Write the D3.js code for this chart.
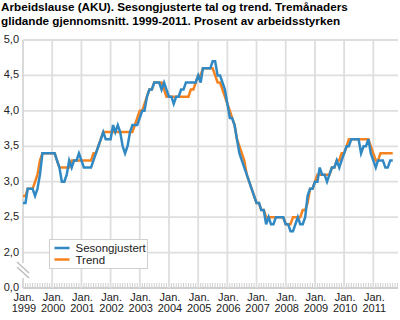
<!DOCTYPE html>
<html>
<head>
<meta charset="utf-8">
<script src="https://cdn.jsdelivr.net/npm/d3@7"></script>
<style>
  body { margin: 0; background: #fff; }
  text { font-family: "Liberation Sans", Arial, sans-serif; fill: #222; }
</style>
</head>
<body>
<div id="chart-area"></div>
<script>
// monthly values, Jan 1999 - Sep 2011
var firstMonth = new Date(1999, 0, 1);

var sesongjustert = [
  2.7, 2.7, 2.9, 2.9, 2.9, 2.8, 2.9, 3.1, 3.4, 3.4,
  3.4, 3.4, 3.4, 3.4, 3.3, 3.2, 3.0, 3.0, 3.1, 3.3,
  3.2, 3.3, 3.3, 3.4, 3.3, 3.2, 3.2, 3.2, 3.2, 3.3,
  3.4, 3.5, 3.6, 3.7, 3.6, 3.6, 3.6, 3.8, 3.7, 3.8,
  3.7, 3.5, 3.4, 3.5, 3.7, 3.8, 3.8, 3.8, 3.9, 4.0,
  4.0, 4.2, 4.3, 4.3, 4.4, 4.4, 4.4, 4.3, 4.4, 4.3,
  4.2, 4.2, 4.1, 4.2, 4.2, 4.3, 4.3, 4.4, 4.4, 4.4,
  4.4, 4.4, 4.5, 4.4, 4.6, 4.6, 4.6, 4.6, 4.7, 4.7,
  4.5, 4.5, 4.4, 4.3, 4.1, 3.9, 3.9, 3.8, 3.6, 3.4,
  3.3, 3.2, 3.1, 3.0, 2.9, 2.8, 2.7, 2.7, 2.6, 2.6,
  2.4, 2.5, 2.4, 2.4, 2.5, 2.5, 2.5, 2.5, 2.4, 2.4,
  2.3, 2.3, 2.4, 2.5, 2.4, 2.4, 2.5, 2.8, 2.9, 2.9,
  3.0, 3.0, 3.2, 3.1, 3.1, 3.0, 3.1, 3.2, 3.2, 3.3,
  3.2, 3.3, 3.4, 3.5, 3.5, 3.6, 3.6, 3.6, 3.6, 3.4,
  3.5, 3.5, 3.6, 3.4, 3.3, 3.2, 3.3, 3.3, 3.3, 3.2,
  3.2, 3.3, 3.3
];

var trend = [
  2.8, 2.8, 2.9, 2.9, 2.9, 3.0, 3.1, 3.3, 3.4, 3.4,
  3.4, 3.4, 3.4, 3.4, 3.3, 3.2, 3.2, 3.2, 3.2, 3.2,
  3.3, 3.3, 3.3, 3.3, 3.3, 3.3, 3.3, 3.3, 3.3, 3.4,
  3.4, 3.5, 3.6, 3.7, 3.7, 3.7, 3.7, 3.7, 3.7, 3.7,
  3.7, 3.7, 3.7, 3.7, 3.7, 3.7, 3.8, 3.9, 4.0, 4.0,
  4.1, 4.2, 4.3, 4.3, 4.4, 4.4, 4.4, 4.4, 4.3, 4.2,
  4.2, 4.2, 4.2, 4.2, 4.2, 4.2, 4.2, 4.2, 4.2, 4.3,
  4.3, 4.4, 4.5, 4.5, 4.6, 4.6, 4.6, 4.6, 4.6, 4.5,
  4.4, 4.4, 4.3, 4.2, 4.1, 4.0, 3.9, 3.8, 3.6, 3.5,
  3.4, 3.3, 3.1, 3.0, 2.9, 2.8, 2.7, 2.7, 2.6, 2.6,
  2.5, 2.5, 2.5, 2.5, 2.5, 2.5, 2.5, 2.5, 2.4, 2.4,
  2.4, 2.5, 2.5, 2.5, 2.5, 2.6, 2.6, 2.7, 2.9, 2.9,
  3.0, 3.1, 3.1, 3.1, 3.1, 3.1, 3.1, 3.2, 3.2, 3.3,
  3.3, 3.4, 3.4, 3.5, 3.6, 3.6, 3.6, 3.6, 3.6, 3.6,
  3.6, 3.6, 3.6, 3.5, 3.4, 3.3, 3.3, 3.4, 3.4, 3.4,
  3.4, 3.4, 3.4
];

var years = [1999, 2000, 2001, 2002, 2003, 2004, 2005, 2006, 2007, 2008, 2009, 2010, 2011];
// 1.5 is the broken part of the axis, labelled as 0,0
var yTicks = [1.5, 2.0, 2.5, 3.0, 3.5, 4.0, 4.5, 5.0];
var seriesNames = ["Sesongjustert", "Trend"];
var colors = ["#3189c4", "#f5821f"];

var titleLines = [
  "Arbeidslause (AKU). Sesongjusterte tal og trend. Tremånaders",
  "glidande gjennomsnitt. 1999-2011. Prosent av arbeidsstyrken"
];

var width = 400, height = 320;
var plot = {left: 23, right: 398, top: 40, bottom: 288};

var svg = d3.select("#chart-area").append("svg")
  .attr("width", width)
  .attr("height", height);

// scales
var x = d3.scaleTime()
  .domain([new Date(1999, 0, 1), new Date(2011, 0, 1)])
  .range([plot.left, 373.3]);

var y = d3.scaleLinear()
  .domain([1.5, 5])
  .range([plot.bottom, plot.top]);

var fmt = function (v) {
  return v === 1.5 ? "0,0" : d3.format(".1f")(v).replace(".", ",");
};

// title
svg.append("g").selectAll("text")
  .data(titleLines)
  .enter().append("text")
  .attr("x", 1)
  .attr("y", function (d, i) { return 11 + i * 13.5; })
  .style("font-size", "11.7px")
  .style("font-weight", "bold")
  .style("fill", "#000")
  .text(function (d) { return d; });

// horizontal grid
svg.append("g").selectAll("line")
  .data(yTicks)
  .enter().append("line")
  .attr("x1", plot.left)
  .attr("x2", plot.right)
  .attr("y1", function (d) { return y(d); })
  .attr("y2", function (d) { return y(d); })
  .style("stroke", function (d) { return d === 1.5 ? "#cfcfcf" : "#dedede"; })
  .style("stroke-width", 1.8);

// monthly minor ticks
var monthTicks = d3.timeMonth.range(new Date(1999, 0, 1), x.invert(plot.right));
svg.append("g").selectAll("line")
  .data(monthTicks)
  .enter().append("line")
  .attr("x1", function (d) { return x(d); })
  .attr("x2", function (d) { return x(d); })
  .attr("y1", plot.bottom - 5)
  .attr("y2", plot.bottom)
  .style("stroke", "#cfcfcf")
  .style("stroke-width", 1);

// vertical grid at each January
var yearDates = years.map(function (d) { return new Date(d, 0, 1); });
svg.append("g").selectAll("line")
  .data(yearDates.slice(1))
  .enter().append("line")
  .attr("x1", function (d) { return x(d); })
  .attr("x2", function (d) { return x(d); })
  .attr("y1", plot.top)
  .attr("y2", plot.bottom)
  .style("stroke", "#dedede")
  .style("stroke-width", 1.8);

// left axis with a break
svg.append("line")
  .attr("x1", plot.left).attr("x2", plot.left)
  .attr("y1", plot.top).attr("y2", 263)
  .style("stroke", "#d6d6d6").style("stroke-width", 1.8);
svg.append("line")
  .attr("x1", plot.left).attr("x2", plot.left)
  .attr("y1", 278).attr("y2", plot.bottom)
  .style("stroke", "#d6d6d6").style("stroke-width", 1.8);
svg.append("g").selectAll("line")
  .data([0, 5])
  .enter().append("line")
  .attr("x1", 17).attr("x2", 29)
  .attr("y1", function (d) { return 262 + d; })
  .attr("y2", function (d) { return 273 + d; })
  .style("stroke", "#bdbdbd")
  .style("stroke-width", 1.5);

// y labels
svg.append("g").selectAll("text")
  .data(yTicks)
  .enter().append("text")
  .attr("x", 19)
  .attr("y", function (d) { return y(d) + 3; })
  .attr("text-anchor", "end")
  .style("font-size", "11px")
  .text(fmt);

// x labels
var xl = svg.append("g").selectAll("text")
  .data(yearDates)
  .enter().append("text")
  .attr("x", function (d) { return x(d) + 1; })
  .attr("y", 301)
  .attr("text-anchor", "middle")
  .style("font-size", "11px");
xl.append("tspan")
  .attr("x", function (d) { return x(d) + 1; })
  .text("Jan.");
xl.append("tspan")
  .attr("x", function (d) { return x(d) + 1; })
  .attr("dy", 11)
  .text(function (d) { return d.getFullYear(); });

// lines
var line = d3.line()
  .x(function (d, i) { return x(d3.timeMonth.offset(firstMonth, i)); })
  .y(function (d) { return y(d); });

svg.append("path")
  .datum(trend)
  .attr("d", line)
  .style("fill", "none")
  .style("stroke", colors[1])
  .style("stroke-width", 2.5);

svg.append("path")
  .datum(sesongjustert)
  .attr("d", line)
  .style("fill", "none")
  .style("stroke", colors[0])
  .style("stroke-width", 2.5);

// legend
var lg = svg.append("g").attr("transform", "translate(49.5,239.5)");
lg.append("rect")
  .attr("width", 98)
  .attr("height", 29)
  .style("fill", "#fff")
  .style("stroke", "#d0d0d0");
var li = lg.selectAll("g")
  .data(seriesNames)
  .enter().append("g")
  .attr("transform", function (d, i) { return "translate(0," + (8.5 + i * 11.5) + ")"; });
li.append("line")
  .attr("x1", 5).attr("x2", 20)
  .style("stroke", function (d, i) { return colors[i]; })
  .style("stroke-width", 2.5);
li.append("text")
  .attr("x", 26)
  .attr("y", 4)
  .style("font-size", "11.5px")
  .text(function (d) { return d; });
</script>
</body>
</html>
